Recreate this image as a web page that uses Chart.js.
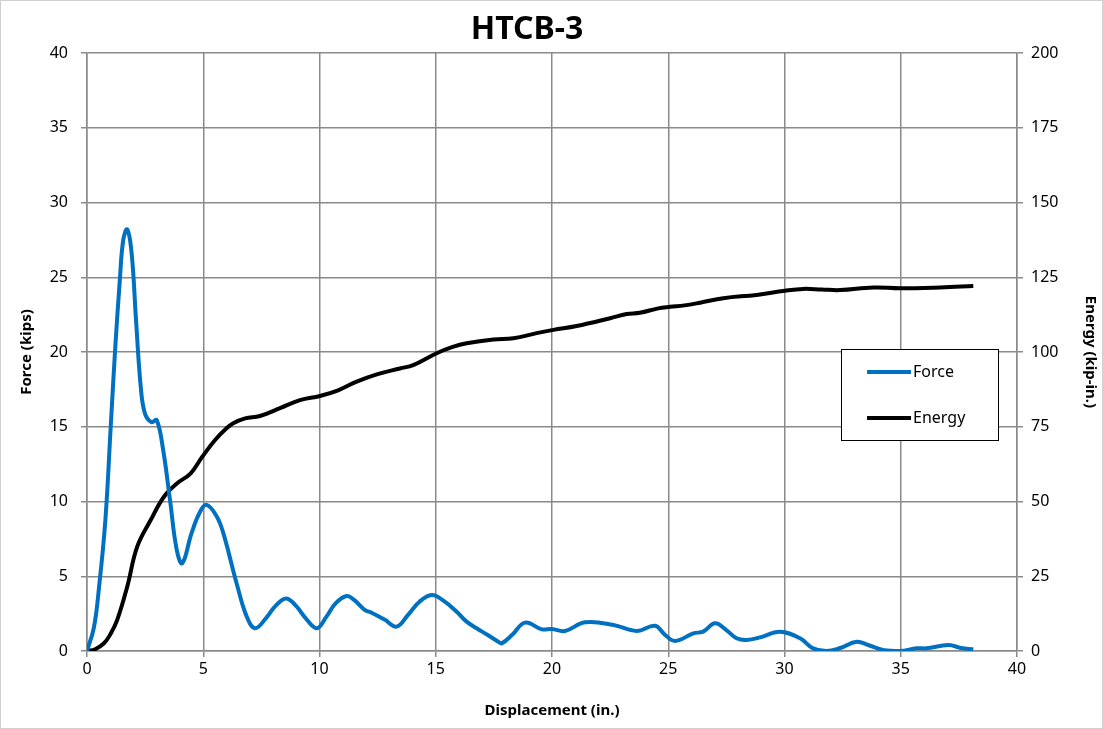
<!DOCTYPE html>
<html>
<head>
<meta charset="utf-8">
<script src="https://cdn.jsdelivr.net/npm/chart.js@4.4.1/dist/chart.umd.min.js"></script>
<style>
html,body{margin:0;padding:0;background:#fff;}
#wrap{width:1103px;height:729px;position:relative;}
</style>
</head>
<body>
<div id="wrap"><canvas id="c" width="1103" height="729"></canvas></div>
<script>
const chartTitle = "HTCB-3";
const xTitle = "Displacement (in.)";
const yLeftTitle = "Force (kips)";
const yRightTitle = "Energy (kip-in.)";
const seriesNames = ["Force", "Energy"];

const forceX = [0,0.3,0.52,0.79,1.02,1.2,1.42,1.56,1.73,1.92,2.11,2.31,2.49,2.78,3.0,3.28,3.57,3.86,4.1,4.5,4.86,5.15,5.58,5.86,6.44,6.87,7.23,7.7,8.1,8.56,9.0,9.4,9.88,10.3,10.7,11.17,11.5,11.96,12.24,12.8,13.32,13.8,14.3,14.83,15.3,15.9,16.3,16.76,17.2,17.69,17.84,18.3,18.84,19.56,19.99,20.56,21.42,22.64,23.64,24.43,24.85,25.29,26.08,26.5,27.01,27.5,27.94,28.37,28.95,29.8,30.67,31.2,31.8,32.4,33.1,33.6,34.25,34.97,35.69,36.1,37.05,37.6,38.12];
const forceY = [0,1.6,4.3,8.76,15.0,19.9,25.0,27.5,28.2,26.6,22.1,17.7,15.9,15.3,15.45,13.4,10.1,6.76,5.87,7.9,9.3,9.77,9.0,7.9,4.5,2.3,1.52,2.2,3.0,3.52,3.0,2.2,1.52,2.3,3.2,3.68,3.4,2.74,2.56,2.1,1.63,2.4,3.3,3.75,3.4,2.63,2.0,1.52,1.1,0.62,0.51,1.1,1.9,1.45,1.47,1.34,1.92,1.74,1.34,1.69,1.1,0.67,1.18,1.3,1.85,1.4,0.85,0.74,0.91,1.29,0.85,0.2,0,0.2,0.62,0.4,0.07,0,0.18,0.18,0.4,0.2,0.11];

const energyX = [0,0.35,0.73,1.0,1.3,1.73,2.16,2.74,3.31,3.88,4.46,4.96,5.5,6.0,6.29,6.8,7.44,8.3,9.16,10.02,10.8,11.6,12.5,13.46,14.03,15.04,15.7,16.33,17.48,18.34,19.34,20.06,21.06,22.5,23.21,23.78,24.57,25.08,25.7,26.37,27.37,28.8,30.02,30.8,31.6,32.39,33.82,34.97,36.7,38.12];
const energyY = [0,0.6,2.6,5.5,10.4,21.5,34.9,43.8,51.6,56.1,59.4,65,70.5,74.5,76.2,77.8,78.6,81.2,83.9,85.3,87.2,90.1,92.6,94.5,95.6,99.6,101.6,102.9,104.2,104.6,106.3,107.4,108.7,111.3,112.7,113.1,114.6,115.1,115.6,116.5,118,119.1,120.5,121.1,120.9,120.7,121.6,121.3,121.6,122.1];

const xTicks = [0,5,10,15,20,25,30,35,40];
const yLeftTicks = [0,5,10,15,20,25,30,35,40];
const yRightTicks = [0,25,50,75,100,125,150,175,200];

const forceData = forceX.map((x,i)=>({x:x,y:forceY[i]}));
const energyData = energyX.map((x,i)=>({x:x,y:energyY[i]}));

const FONT = "'Noto Sans', sans-serif";
const GRID = '#8a8a8a';

const bgPlugin = {
  id:'bg',
  beforeDraw(chart){
    const ctx = chart.ctx;
    ctx.save();
    ctx.fillStyle='#fff';
    ctx.fillRect(0,0,chart.width,chart.height);
    ctx.strokeStyle='#d0d0d0';
    ctx.lineWidth=1;
    ctx.strokeRect(0.5,0.5,chart.width-1,chart.height-1);
    ctx.restore();
  }
};

const titlePlugin = {
  id:'topTitle',
  afterDraw(chart){
    const ctx = chart.ctx;
    ctx.save();
    ctx.fillStyle='#000';
    ctx.font = "bold 32px " + FONT;
    ctx.textAlign='center';
    ctx.textBaseline='middle';
    ctx.fillText(chartTitle, 527, 30);
    ctx.restore();
  }
};

const legendPlugin = {
  id:'boxLegend',
  afterDraw(chart){
    const ctx = chart.ctx;
    const ca = chart.chartArea;
    const bx = ca.left + (ca.right-ca.left)*0.8108, by = ca.top + (ca.bottom-ca.top)*0.495;
    const bw = 157, bh = 91;
    ctx.save();
    ctx.fillStyle='#fff';
    ctx.fillRect(bx,by,bw,bh);
    ctx.strokeStyle='#000';
    ctx.lineWidth=1;
    ctx.strokeRect(Math.round(bx)+0.5,Math.round(by)+0.5,bw,bh);
    chart.data.datasets.forEach((ds,i)=>{
      const yy = by + 23 + i*46;
      ctx.strokeStyle = ds.borderColor;
      ctx.lineWidth = 4;
      ctx.lineCap='butt';
      ctx.beginPath();
      ctx.moveTo(bx+26,yy);
      ctx.lineTo(bx+70,yy);
      ctx.stroke();
      ctx.fillStyle='#000';
      ctx.font = "16px " + FONT;
      ctx.textBaseline='middle';
      ctx.textAlign='left';
      ctx.fillText(ds.label, bx+72, yy);
    });
    ctx.restore();
  }
};

new Chart(document.getElementById('c'), {
  type:'line',
  data:{
    datasets:[
      {label:seriesNames[0], data:forceData, yAxisID:'y', borderColor:'#0070C0', borderWidth:4, pointRadius:0, tension:0.4, fill:false},
      {label:seriesNames[1], data:energyData, yAxisID:'y2', borderColor:'#000000', borderWidth:4, pointRadius:0, tension:0.4, fill:false}
    ]
  },
  options:{
    responsive:false,
    animation:false,
    events:[],
    layout:{padding:{left:0,right:0,top:53,bottom:0}},
    plugins:{
      legend:{display:false},
      tooltip:{enabled:false},
      title:{display:false}
    },
    scales:{
      x:{
        type:'linear', min:0, max:40,
        afterBuildTicks(s){ s.ticks = xTicks.map(v=>({value:v})); },
        afterFit(s){ s.height = 78; },
        grid:{color:GRID, lineWidth:1.5, tickLength:6, drawTicks:true},
        border:{color:GRID, width:1.5},
        ticks:{color:'#000', font:{family:FONT, size:16}, padding:3, maxRotation:0},
        title:{display:true, text:xTitle, color:'#000', font:{family:FONT, size:15, weight:'bold'}, padding:{top:2,bottom:9}}
      },
      y:{
        type:'linear', position:'left', min:0, max:40,
        afterBuildTicks(s){ s.ticks = yLeftTicks.map(v=>({value:v})); },
        afterFit(s){ s.width = 87; },
        grid:{color:GRID, lineWidth:1.5, tickLength:6},
        border:{color:GRID, width:1.5},
        ticks:{color:'#000', font:{family:FONT, size:16}, padding:13},
        title:{display:true, text:yLeftTitle, color:'#000', font:{family:FONT, size:15, weight:'bold'}, padding:{top:18,bottom:0}}
      },
      y2:{
        type:'linear', position:'right', min:0, max:200,
        afterBuildTicks(s){ s.ticks = yRightTicks.map(v=>({value:v})); },
        afterFit(s){ s.width = 86; },
        grid:{drawOnChartArea:false, color:GRID, lineWidth:1.5, tickLength:6},
        border:{color:GRID, width:1.5},
        ticks:{color:'#000', font:{family:FONT, size:16}, padding:8},
        title:{display:true, text:yRightTitle, color:'#000', font:{family:FONT, size:15, weight:'bold'}, padding:{top:4,bottom:0}}
      }
    }
  },
  plugins:[bgPlugin, titlePlugin, legendPlugin]
});
</script>
</body>
</html>
